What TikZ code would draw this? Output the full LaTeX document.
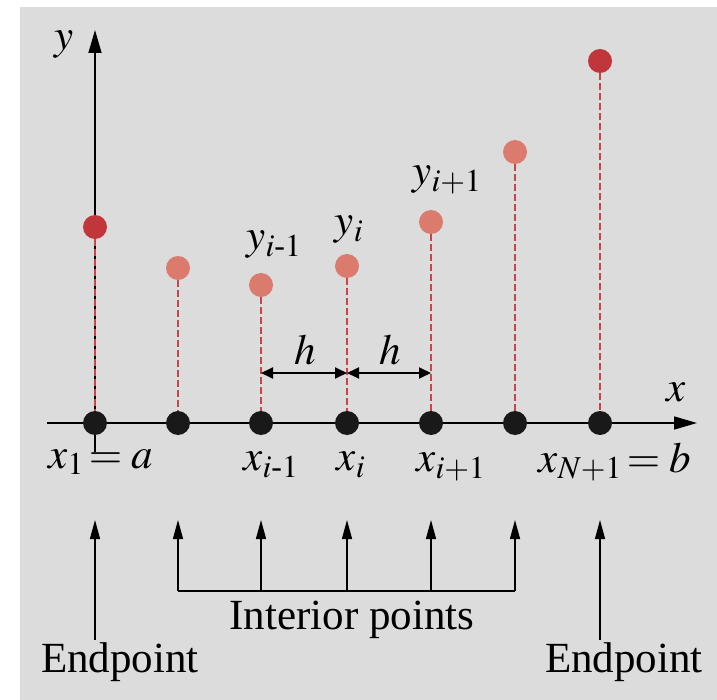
\documentclass[tikz,border=0pt]{standalone}
\usepackage{amsmath}
\usepackage{mathptmx}
\usepackage[no-math]{fontspec}
\setmainfont{Liberation Serif}
\usetikzlibrary{arrows.meta}
\definecolor{bgray}{HTML}{DCDCDC}
\definecolor{darkred}{HTML}{C1363B}
\definecolor{salmon}{HTML}{DB7B6D}
\definecolor{stemred}{HTML}{C94347}
\tikzset{
  gridpt/.style={circle,fill=black!90,inner sep=0pt,minimum size=24pt},
  endval/.style={circle,fill=darkred,inner sep=0pt,minimum size=24pt},
  midval/.style={circle,fill=salmon,inner sep=0pt,minimum size=24pt},
  stem/.style={stemred,line width=1.3pt,dash pattern=on 7pt off 3pt},
  axis/.style={line width=1.6pt,-{Triangle[length=23pt,width=13pt]}},
  uparrow/.style={line width=1.4pt,-{Triangle[length=19pt,width=10pt]}},
  bracket/.style={line width=1.4pt},
  harrow/.style={line width=1.8pt,{Triangle[length=12pt,width=11pt]}-{Triangle[length=12pt,width=11pt]}},
  lbl/.style={inner sep=0pt,font=\fontsize{43}{48}\selectfont},
}
\begin{document}
\begin{tikzpicture}[x=1pt,y=-1pt]
\useasboundingbox (0,0) rectangle (717,700);
\fill[white] (0,0) rectangle (717,700);
\fill[bgray] (20,7) rectangle (717,700);

% axes
\coordinate (yb) at (95,452);
\coordinate (yt) at (95,30);
\coordinate (xl) at (47,423);
\coordinate (xr) at (697,423);
\draw[axis] (yb) -- (yt);
\draw[axis] (xl) -- (xr);
\node[lbl] (ylab) at (64,45) {$y$};
\node[lbl] (xlab) at (676,392) {$x$};

% value points
\node[endval] (q1) at (95,227) {};
\node[midval] (q2) at (178,268) {};
\node[midval] (q3) at (261,285) {};
\node[midval] (q4) at (347,266) {};
\node[midval] (q5) at (431,222) {};
\node[midval] (q6) at (515,152) {};
\node[endval] (q7) at (600,61) {};

% grid points
\node[gridpt] (p1) at (95,423) {};
\node[gridpt] (p2) at (178,423) {};
\node[gridpt] (p3) at (261,423) {};
\node[gridpt] (p4) at (347,423) {};
\node[gridpt] (p5) at (431,423) {};
\node[gridpt] (p6) at (515,423) {};
\node[gridpt] (p7) at (600,423) {};

\foreach \i in {1,...,7} {
  \draw[stem] (q\i.south) -- (p\i.north);
}

% h arrows
\coordinate (h1) at (261,373);
\coordinate (h2) at (347,373);
\coordinate (h3) at (431,373);
\draw[harrow] (h1) -- (h2);
\draw[harrow] (h2) -- (h3);
\node[lbl] (hl1) at (305,350) {$h$};
\node[lbl] (hl2) at (390,350) {$h$};

% value labels
\node[lbl] (yim1) at (274,245) {$y_{i\text{-}1}$};
\node[lbl] (yi) at (349,230) {$y_{i}$};
\node[lbl] (yip1) at (447,180) {$y_{i+1}$};

% grid labels
\node[lbl] (x1) at (101,462) {$x_1\!=a$};
\node[lbl] (xim1) at (271,465) {$x_{i\text{-}1}$};
\node[lbl] (xi) at (351,465) {$x_{i}$};
\node[lbl] (xip1) at (451,467) {$x_{i+1}$};
\node[lbl] (xN) at (615,462) {$x_{N+1}\!=b$};

% endpoint arrows
\node[lbl] (ep1) at (120,662) {Endpoint};
\node[lbl] (ep2) at (624,662) {Endpoint};
\coordinate (e1b) at (95,640);
\coordinate (e1t) at (95,520);
\coordinate (e2b) at (600,640);
\coordinate (e2t) at (600,520);
\draw[uparrow] (e1b) -- (e1t);
\draw[uparrow] (e2b) -- (e2t);

% interior bracket
\node[lbl] (ip) at (352,620) {Interior points};
\coordinate (b2) at (178,591);
\coordinate (b3) at (261,591);
\coordinate (b4) at (347,591);
\coordinate (b5) at (431,591);
\coordinate (b6) at (515,591);
\draw[bracket] (b2) -- (b6);
\foreach \x/\n in {178/b2,261/b3,347/b4,431/b5,515/b6} {
  \draw[uparrow] (\n) -- (\x,520);
}
\end{tikzpicture}
\end{document}
